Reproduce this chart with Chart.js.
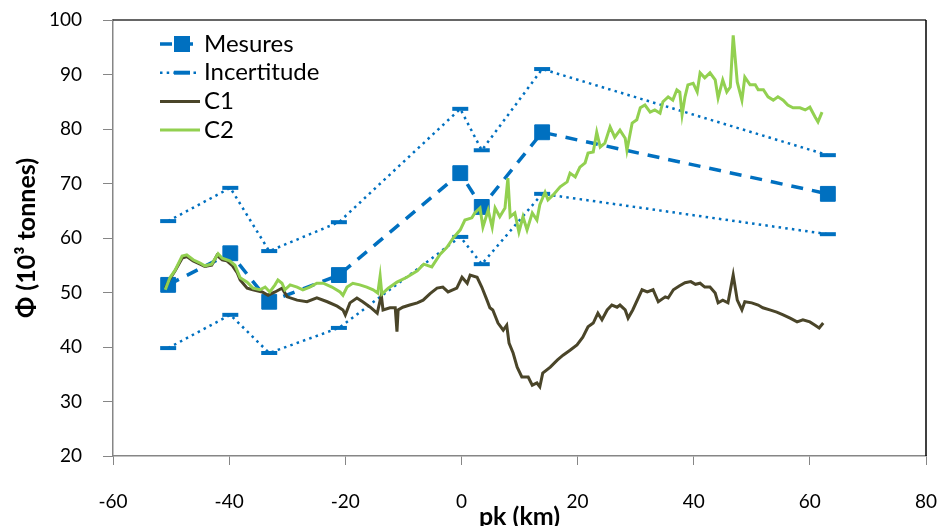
<!DOCTYPE html>
<html>
<head>
<meta charset="utf-8">
<script src="https://cdn.jsdelivr.net/npm/chart.js@4.4.1/dist/chart.umd.min.js"></script>
<style>
  html, body { margin: 0; padding: 0; background: #fff; overflow: hidden; }
  canvas { display: block; }
</style>
</head>
<body>
<canvas id="fluxChart" width="944" height="526"></canvas>
<script>
// measurement sites (pk in km) and flux (10^3 tonnes)
const mesuresKm = [-50.5, -39.8, -33.1, -21.1, -0.2, 3.5, 13.9, 63.1];
const mesuresVal = [51.4, 57.2, 48.3, 53.2, 71.9, 65.7, 79.4, 68.1];
const incertHaut = [63.1, 69.2, 57.6, 62.9, 83.7, 76.1, 91.0, 75.2];
const incertBas = [39.8, 45.9, 38.9, 43.5, 60.2, 55.2, 68.1, 60.7];

// simulated curves
const c1Km = [-51.0, -50.2, -49.3, -48.1, -47.3, -46.2, -45.0, -44.2, -43.0, -42.1,
  -41.2, -40.4, -39.5, -38.6, -38.1, -36.9, -35.9, -34.3, -33.3, -32.1,
  -30.9, -30.0, -28.3, -26.6, -24.9, -23.1, -21.4, -20.4, -20.0, -19.2,
  -18.0, -17.0, -15.7, -14.5, -13.8, -13.5, -12.3, -11.4, -11.1, -10.9,
  -10.1, -8.9, -7.6, -6.6, -5.4, -4.2, -3.2, -2.3, -0.8, 0.1,
  1.0, 1.5, 2.7, 3.5, 4.4, 4.9, 5.4, 6.3, 7.2, 7.8,
  8.2, 8.9, 9.6, 10.4, 11.5, 12.2, 13.0, 13.5, 14.0, 15.3,
  16.5, 17.5, 18.7, 19.9, 20.9, 21.8, 22.7, 23.5, 24.2, 25.1,
  25.9, 26.8, 27.3, 28.2, 28.7, 29.5, 31.1, 32.0, 33.0, 33.9,
  35.1, 35.6, 36.5, 37.5, 38.5, 39.5, 40.3, 41.1, 41.9, 42.8,
  43.7, 44.2, 45.0, 45.9, 46.8, 47.5, 48.3, 48.8, 50.0, 51.1,
  51.9, 53.1, 54.3, 55.4, 56.6, 57.8, 58.8, 60.0, 60.9, 61.6, 62.3];
const c1Val = [50.8, 52.5, 54.0, 56.3, 56.6, 55.8, 55.2, 54.8, 55.0, 56.8,
  56.0, 55.8, 55.0, 53.6, 52.3, 50.8, 50.5, 50.1, 49.5, 50.1,
  50.8, 49.2, 48.6, 48.3, 49.0, 48.3, 47.5, 46.8, 45.9, 48.1,
  49.0, 48.3, 47.3, 46.2, 49.5, 46.8, 47.2, 47.2, 42.8, 46.8,
  47.3, 47.7, 48.1, 48.6, 49.8, 50.8, 51.0, 50.1, 50.8, 52.8,
  51.7, 53.2, 52.8, 51.0, 48.6, 47.2, 46.8, 44.4, 43.1, 44.0,
  40.7, 38.9, 36.3, 34.5, 34.5, 33.0, 33.4, 32.7, 35.2, 36.3,
  37.6, 38.5, 39.4, 40.4, 41.8, 43.7, 44.4, 46.2, 45.0, 46.8,
  47.7, 47.3, 47.7, 46.8, 45.3, 46.8, 50.5, 50.1, 50.5, 48.3,
  49.2, 49.0, 50.5, 51.2, 51.8, 52.0, 51.5, 51.7, 51.0, 51.0,
  49.9, 48.1, 48.6, 48.1, 53.2, 48.6, 46.8, 48.3, 48.1, 47.7,
  47.2, 46.8, 46.4, 45.9, 45.3, 44.6, 45.0, 44.6, 44.0, 43.5, 44.4];

const c2Km = [-51.0, -50.2, -49.3, -48.1, -47.3, -46.2, -45.0, -44.2, -43.0, -41.9,
  -41.2, -39.9, -39.0, -38.1, -36.9, -35.9, -34.7, -33.8, -33.0, -32.1,
  -31.6, -30.9, -30.4, -29.5, -28.3, -27.3, -26.1, -24.9, -23.8, -22.3,
  -20.9, -20.4, -19.7, -18.7, -17.5, -16.3, -15.2, -14.4, -14.0, -13.7,
  -12.6, -11.1, -9.4, -7.6, -6.5, -5.1, -3.7, -2.5, -1.4, -0.2,
  0.6, 1.8, 2.3, 3.2, 3.7, 4.6, 5.3, 5.8, 6.6, 7.5,
  8.0, 8.4, 9.2, 9.9, 10.6, 11.3, 12.2, 13.0, 13.5, 14.4,
  14.9, 15.8, 17.0, 18.2, 18.7, 19.6, 20.4, 21.3, 21.8, 22.7,
  23.3, 23.9, 24.7, 25.6, 26.4, 27.3, 28.2, 28.5, 29.4, 30.2,
  30.8, 31.6, 32.5, 33.3, 34.2, 34.7, 35.6, 36.4, 37.1, 37.6,
  38.0, 38.5, 39.0, 39.9, 40.6, 41.1, 41.9, 42.8, 43.7, 44.2,
  45.0, 45.7, 46.3, 46.8, 47.5, 48.3, 48.8, 49.7, 50.6, 51.1,
  52.0, 52.8, 53.7, 54.5, 55.4, 56.2, 57.1, 58.3, 59.2, 60.0,
  60.9, 61.4, 62.1];
const c2Val = [50.5, 52.7, 54.1, 56.7, 56.9, 56.0, 55.4, 54.9, 55.2, 57.1,
  56.3, 55.8, 55.0, 52.7, 51.9, 50.8, 50.5, 51.0, 50.1, 51.4,
  52.3, 51.7, 50.5, 51.4, 51.0, 50.5, 51.0, 51.7, 51.7, 51.0,
  50.1, 49.5, 51.0, 51.7, 51.4, 51.0, 50.5, 49.9, 53.0, 49.7,
  50.8, 51.9, 52.8, 54.0, 55.2, 54.7, 57.0, 58.3, 60.0, 61.5,
  63.3, 63.7, 64.6, 65.5, 62.0, 65.1, 62.0, 65.5, 63.9, 65.5,
  71.0, 63.9, 64.6, 61.1, 63.9, 61.5, 64.6, 63.3, 66.1, 68.4,
  67.0, 67.9, 69.4, 70.3, 71.9, 71.2, 73.0, 73.8, 75.6, 75.8,
  79.4, 76.7, 77.4, 80.4, 78.5, 79.8, 78.3, 76.1, 81.1, 81.7,
  83.9, 84.4, 83.1, 83.5, 82.9, 85.0, 85.9, 85.3, 87.2, 86.8,
  82.6, 85.9, 88.1, 88.4, 86.8, 90.3, 89.4, 90.3, 89.0, 85.7,
  89.0, 86.8, 87.7, 97.2, 88.6, 85.3, 89.5, 88.1, 88.1, 87.2,
  87.2, 85.9, 85.3, 85.9, 85.3, 84.4, 83.9, 83.9, 83.5, 84.0,
  82.2, 81.3, 83.1];

const xTicks = [-60, -40, -20, 0, 20, 40, 60, 80];
const yTicks = [20, 30, 40, 50, 60, 70, 80, 90, 100];
const seriesNames = ['Mesures', 'Incertitude', 'C1', 'C2'];

const toPoints = (xs, ys) => xs.map((x, i) => ({ x: x, y: ys[i] }));

const blue = '#0070C0';

// Excel-like legend drawn inside the plot area (line sample + marker + text)
const plotLegend = {
    id: 'plotLegend',
    afterDatasetsDraw(chart) {
        const ctx = chart.ctx;
        const x0 = chart.chartArea.left + 47;
        const y0 = chart.chartArea.top + 24;
        ctx.save();
        ctx.font = '24px Lato';
        ctx.textBaseline = 'middle';
        seriesNames.forEach((name, i) => {
            const ds = chart.data.datasets.find(d => d.label === name);
            const y = y0 + i * 28.7;
            ctx.strokeStyle = ds.borderColor;
            ctx.lineWidth = ds.borderWidth;
            ctx.setLineDash(ds.borderDash || []);
            ctx.beginPath();
            ctx.moveTo(x0, y);
            ctx.lineTo(x0 + 40, y);
            ctx.stroke();
            ctx.setLineDash([]);
            ctx.fillStyle = blue;
            if (ds.pointStyle === 'rect') {
                ctx.fillRect(x0 + 14, y - 8, 16, 16);
            } else if (ds.pointStyle === 'line') {
                ctx.fillRect(x0 + 14, y - 2, 16, 4);
            }
            ctx.fillStyle = '#000';
            ctx.fillText(name, x0 + 44, y);
        });
        ctx.restore();
    }
};

// top and right edges of the plot area
const plotFrame = {
    id: 'plotFrame',
    beforeDatasetsDraw(chart) {
        const { ctx, chartArea: a } = chart;
        ctx.save();
        ctx.lineWidth = 1.5;
        ctx.strokeStyle = '#333';
        ctx.beginPath();
        ctx.moveTo(a.left, a.top);
        ctx.lineTo(a.right, a.top);
        ctx.stroke();
        ctx.strokeStyle = '#000';
        ctx.beginPath();
        ctx.moveTo(a.right, a.top);
        ctx.lineTo(a.right, a.bottom);
        ctx.stroke();
        ctx.restore();
    }
};

// fixed box sizes, no extra room for overhanging labels
const fixBox = (size) => (scale) => {
    if (scale.isHorizontal()) {
        scale.height = size;
    } else {
        scale.width = size;
    }
    scale.paddingTop = 0;
    scale.paddingBottom = 0;
    scale.paddingLeft = 0;
    scale.paddingRight = 0;
};

const ctx = document.getElementById('fluxChart').getContext('2d');
const fluxChart = new Chart(ctx, {
    type: 'line',
    data: {
        datasets: [
            {
                label: 'C2',
                data: toPoints(c2Km, c2Val),
                borderColor: '#92D050',
                borderWidth: 3,
                pointRadius: 0,
                order: 0
            },
            {
                label: 'C1',
                data: toPoints(c1Km, c1Val),
                borderColor: '#4A4529',
                borderWidth: 3,
                pointRadius: 0,
                order: 1
            },
            {
                label: 'Mesures',
                data: toPoints(mesuresKm, mesuresVal),
                borderColor: blue,
                borderWidth: 3.5,
                borderDash: [12, 9],
                pointStyle: 'rect',
                pointRadius: 10.5,
                pointBorderWidth: 1,
                pointBackgroundColor: blue,
                pointBorderColor: blue,
                order: 2
            },
            {
                label: 'Incertitude',
                data: toPoints(mesuresKm, incertHaut),
                borderColor: blue,
                borderWidth: 2.5,
                borderDash: [2.5, 4.2],
                pointStyle: 'line',
                pointRadius: 8,
                pointBorderWidth: 4,
                pointBorderColor: blue,
                order: 3
            },
            {
                label: 'Incertitude bas',
                data: toPoints(mesuresKm, incertBas),
                borderColor: blue,
                borderWidth: 2.5,
                borderDash: [2.5, 4.2],
                pointStyle: 'line',
                pointRadius: 8,
                pointBorderWidth: 4,
                pointBorderColor: blue,
                order: 3
            }
        ]
    },
    options: {
        responsive: false,
        devicePixelRatio: 1,
        animation: false,
        layout: { padding: { left: 0, top: 20, right: 18, bottom: 0 } },
        plugins: {
            legend: { display: false },
            tooltip: { enabled: false }
        },
        scales: {
            x: {
                type: 'linear',
                min: -60,
                max: 80,
                afterBuildTicks: (scale) => { scale.ticks = xTicks.map(v => ({ value: v })); },
                afterFit: fixBox(70),
                grid: { drawOnChartArea: false, tickLength: 9, color: '#868686' },
                border: { color: '#868686', width: 1.5 },
                ticks: { padding: 25, color: '#000', font: { family: 'Lato', size: 19 } },
                title: {
                    display: true,
                    text: 'pk (km)',
                    color: '#000',
                    font: { family: 'Lato', size: 25, weight: 'bold' },
                    padding: { top: 0, bottom: -6 }
                }
            },
            y: {
                min: 20,
                max: 100,
                afterBuildTicks: (scale) => { scale.ticks = yTicks.map(v => ({ value: v })); },
                afterFit: fixBox(113),
                grid: { drawOnChartArea: false, tickLength: 10, color: '#868686' },
                border: { color: '#868686', width: 1.5 },
                ticks: { padding: 21, color: '#000', font: { family: 'Lato', size: 19 } },
                title: {
                    display: true,
                    text: 'Φ (10³ tonnes)',
                    color: '#000',
                    font: { family: 'Lato', size: 25, weight: 'bold' },
                    padding: { top: 12, bottom: 0 }
                }
            }
        }
    },
    plugins: [plotFrame, plotLegend]
});
</script>
</body>
</html>
